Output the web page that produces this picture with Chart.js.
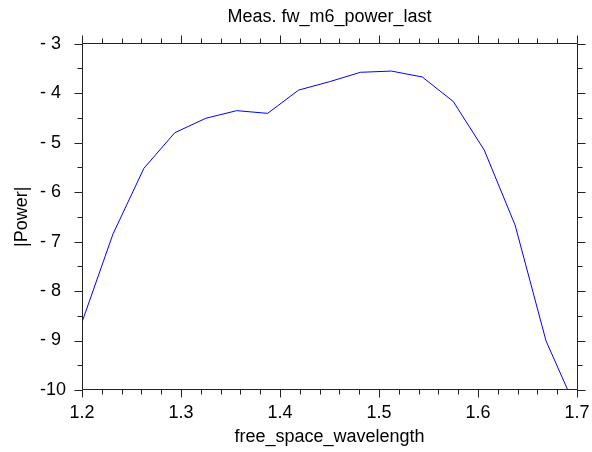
<!DOCTYPE html>
<html><head><meta charset="utf-8">
<script src="https://cdn.jsdelivr.net/npm/chart.js@4/dist/chart.umd.min.js"></script>
<style>html,body{margin:0;padding:0;background:#fff;}</style>
</head><body>
<canvas id="c" width="592" height="452"></canvas>
<script>
const chartTitle = 'Meas. fw_m6_power_last';
const xAxisTitle = 'free_space_wavelength';
const yAxisTitle = '|Power|';
const wavelength = [1.2, 1.23125, 1.2625, 1.29375, 1.325, 1.35625, 1.3875, 1.41875, 1.45, 1.48125, 1.5125, 1.54375, 1.575, 1.60625, 1.6375, 1.66875, 1.7];
const power = [-8.63, -6.85, -5.52, -4.8, -4.51, -4.355, -4.41, -3.94, -3.77, -3.58, -3.555, -3.675, -4.17, -5.15, -6.67, -9.01, -10.42];
const xTickValues = [1.2, 1.3, 1.4, 1.5, 1.6, 1.7];
const yTickValues = [-10, -9, -8, -7, -6, -5, -4, -3];
const xMinorStep = 0.02;
const yMinorStep = 0.5;

const FONT = '"Liberation Sans", Arial, sans-serif';

const framePlugin = {
  id: 'frame',
  afterDatasetsDraw(chart) {
    const ctx = chart.ctx;
    const xs = chart.scales.x, ys = chart.scales.y;
    const L = Math.floor(xs.left) + 0.5, R = Math.floor(xs.right) + 0.5;
    const T = Math.floor(ys.top) + 0.5, B = Math.floor(ys.bottom) - 0.5;
    ctx.save();
    ctx.strokeStyle = '#222';
    ctx.lineWidth = 1;
    ctx.beginPath();
    ctx.rect(L, T, R - L, B - T);
    ctx.stroke();
    const MAJ = 8, MIN = 5;
    ctx.beginPath();
    const xmin = xs.min, xmax = xs.max;
    const nx = Math.round((xmax - xmin) / xMinorStep);
    for (let i = 0; i <= nx; i++) {
      const v = xmin + i * xMinorStep;
      const major = xTickValues.some(t => Math.abs(t - v) < 1e-6);
      const len = major ? MAJ : MIN;
      const px = Math.round(xs.getPixelForValue(v)) + 0.5;
      ctx.moveTo(px, B); ctx.lineTo(px, B + len);
      ctx.moveTo(px, T); ctx.lineTo(px, T - len);
    }
    const ymin = ys.min, ymax = ys.max;
    const ny = Math.round((ymax - ymin) / yMinorStep);
    for (let i = 0; i <= ny; i++) {
      const v = ymin + i * yMinorStep;
      const major = yTickValues.some(t => Math.abs(t - v) < 1e-6);
      const len = major ? MAJ : MIN;
      const py = Math.round(ys.getPixelForValue(v)) + 0.5;
      ctx.moveTo(L, py); ctx.lineTo(L - len, py);
      ctx.moveTo(R, py); ctx.lineTo(R + len, py);
    }
    ctx.stroke();
    ctx.restore();
  }
};

new Chart(document.getElementById('c'), {
  type: 'line',
  data: {
    datasets: [{
      data: wavelength.map((x, i) => ({x: x, y: power[i]})),
      borderColor: '#0000ff',
      borderWidth: 1,
      pointRadius: 0,
      tension: 0,
      fill: false
    }]
  },
  options: {
    responsive: false,
    animation: false,
    layout: {padding: {left: 0, right: 15, top: 0, bottom: 0}},
    plugins: {
      legend: {display: false},
      tooltip: {enabled: false},
      title: {
        display: true, text: chartTitle, fullSize: false, color: '#000',
        font: {family: FONT, size: 18, weight: 'normal'},
        padding: {top: 6, bottom: 16}
      }
    },
    scales: {
      x: {
        type: 'linear', position: 'bottom', min: 1.2, max: 1.7,
        grid: {display: false, drawTicks: false},
        border: {display: false},
        ticks: {
          stepSize: 0.1, autoSkip: false, maxRotation: 0, color: '#000',
          font: {family: FONT, size: 18}, padding: 12,
          callback: v => Number(v).toFixed(1)
        },
        title: {display: true, text: xAxisTitle, color: '#000', font: {family: FONT, size: 18}, padding: {top: 0, bottom: 4}},
        afterFit: s => { s.height = 62; s.paddingLeft = 0; s.paddingRight = 0; }
      },
      y: {
        type: 'linear', position: 'left', min: -10, max: -3, weight: 0,
        grid: {display: false, drawTicks: false},
        border: {display: false},
        ticks: {
          stepSize: 1, autoSkip: false, color: '#000', crossAlign: 'far',
          font: {family: FONT, size: 18}, padding: 0,
          callback: v => (v > -10 ? '- ' + Math.abs(v) : String(v))
        },
        afterFit: s => { s.width = 42; s.paddingTop = 0; s.paddingBottom = 0; }
      },
      yTitle: {
        type: 'linear', position: 'left', weight: 1, display: true,
        grid: {display: false, drawTicks: false},
        border: {display: false},
        ticks: {display: false},
        title: {display: true, text: yAxisTitle, color: '#000', font: {family: FONT, size: 18}, padding: {top: 11, bottom: 0}},
        afterFit: s => { s.width = 40; }
      }
    }
  },
  plugins: [framePlugin]
});
</script>
</body></html>
